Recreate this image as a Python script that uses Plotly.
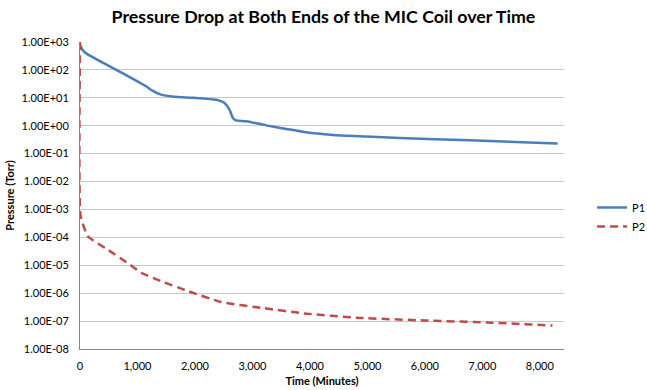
import plotly.graph_objects as go

time_p1 = [0, 50, 135, 500, 1000, 1150, 1260, 1410, 1640, 1990, 2370, 2510, 2600, 2660, 2715, 2890, 3240, 3590, 3930, 4400, 4980, 5560, 6775, 8310]
p1 = [800, 500, 360, 140, 39, 26, 18, 13, 11, 10, 8.5, 6.6, 3.8, 1.9, 1.55, 1.45, 1.03, 0.77, 0.58, 0.47, 0.41, 0.36, 0.30, 0.23]

time_p2 = [0, 10, 135, 485, 830, 1065, 1410, 1875, 2455, 3200, 3875, 4860, 6020, 7180, 8220]
p2 = [1000, 6e-4, 1.1e-4, 3.6e-5, 1.2e-5, 5.4e-6, 2.7e-6, 1.2e-6, 4.8e-7, 2.9e-7, 1.9e-7, 1.3e-7, 1.05e-7, 8.8e-8, 6.9e-8]

y_exponents = list(range(-8, 4))
y_ticktext = ["1.00E%s%02d" % ("+" if e >= 0 else "-", abs(e)) for e in y_exponents]
x_ticks = [0, 1000, 2000, 3000, 4000, 5000, 6000, 7000, 8000]
x_ticktext = ["0", "1,000", "2,000", "3,000", "4,000", "5,000", "6,000", "7,000", "8,000"]

fig = go.Figure()
fig.add_trace(go.Scatter(x=time_p1, y=p1, mode="lines", name="P1",
                         line=dict(color="#4a7ebb", width=2.5, shape="spline", smoothing=0.5)))
fig.add_trace(go.Scatter(x=time_p2, y=p2, mode="lines", name="P2",
                         line=dict(color="#be4b48", width=2.5, dash="8px,5px", shape="spline", smoothing=0.4)))

fig.update_layout(
    width=647, height=390,
    margin=dict(l=80, r=83, t=42, b=41, autoexpand=False),
    paper_bgcolor="white", plot_bgcolor="white",
    font=dict(family="Lato, Carlito, sans-serif", size=11, color="#000000"),
    title=dict(text="<b>Pressure Drop at Both Ends of the MIC Coil over Time</b>",
               x=0.503, xref="paper", xanchor="center", y=0.958, yanchor="middle",
               font=dict(size=17.8, family="Lato, Carlito, sans-serif", color="#000000")),
    legend=dict(x=1.058, y=0.43, xanchor="left", yanchor="middle",
                bgcolor="rgba(0,0,0,0)", font=dict(size=11), itemwidth=30,
                tracegroupgap=4),
    showlegend=True,
)
fig.update_xaxes(range=[0, 8420], tickvals=x_ticks, ticktext=x_ticktext,
                 showgrid=False, showline=True, linecolor="#888888", linewidth=1,
                 ticks="", zeroline=False, tickfont=dict(size=11), ticklabelstandoff=7,
                 title=dict(text="<b>Time (Minutes)</b>", font=dict(size=11), standoff=6))
fig.update_yaxes(type="log", range=[-8, 3], tickvals=[10.0 ** e for e in y_exponents],
                 ticktext=y_ticktext, showgrid=True, gridcolor="#c8c8c8", gridwidth=1,
                 showline=True, linecolor="#888888", linewidth=1, ticks="",
                 zeroline=False, tickfont=dict(size=11), ticklabelstandoff=8,
                 title=dict(text="<b>Pressure (Torr)</b>", font=dict(size=11), standoff=4))

fig.write_html("out.html")
